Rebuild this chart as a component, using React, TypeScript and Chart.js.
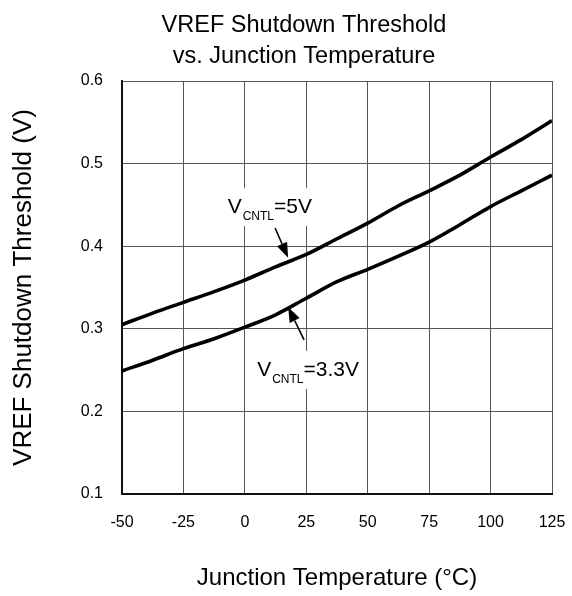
import React, { useEffect, useRef } from "react";
import { Chart, registerables } from "chart.js";

Chart.register(...registerables);

// ---- data ----
const temperatures = [-50, -37.5, -25, -12.5, 0, 12.5, 25, 37.5, 50, 62.5, 75, 87.5, 100, 112.5, 125];
const vref5V = [0.305, 0.319, 0.332, 0.345, 0.359, 0.375, 0.39, 0.409, 0.428, 0.449, 0.467, 0.486, 0.508, 0.529, 0.552];
const vref33V = [0.249, 0.262, 0.276, 0.288, 0.302, 0.317, 0.337, 0.357, 0.372, 0.388, 0.405, 0.426, 0.448, 0.467, 0.486];
const xTickValues = [-50, -25, 0, 25, 50, 75, 100, 125];
const yTickValues = [0.1, 0.2, 0.3, 0.4, 0.5, 0.6];
const titleLines = ["VREF Shutdown Threshold", "vs. Junction Temperature"];

const FONT = "'Liberation Sans', Arial, Helvetica, sans-serif";

type Note = {
  main: string;
  sub: string;
  tail: string;
  at: [number, number];
  arrowFrom: [number, number];
  arrowTo: [number, number];
};

const notes: Note[] = [
  { main: "V", sub: "CNTL", tail: "=5V", at: [-7.0, 0.44], arrowFrom: [12.3, 0.422], arrowTo: [17.6, 0.386] },
  { main: "V", sub: "CNTL", tail: "=3.3V", at: [5.0, 0.243], arrowFrom: [24.1, 0.2865], arrowTo: [17.6, 0.3264] },
];

const titlePlugin = {
  id: "twoLineTitle",
  afterDraw(chart: any) {
    const { ctx } = chart;
    ctx.save();
    ctx.fillStyle = "#000";
    ctx.font = `23.5px ${FONT}`;
    ctx.textAlign = "center";
    ctx.textBaseline = "alphabetic";
    ctx.fillText(titleLines[0], 304, 32);
    ctx.fillText(titleLines[1], 304, 63);
    ctx.restore();
  },
};

const annotationPlugin = {
  id: "vcntlNotes",
  afterDatasetsDraw(chart: any) {
    const { ctx, scales } = chart;
    const xs = scales.x;
    const ys = scales.y;
    ctx.save();
    for (const n of notes) {
      const px = xs.getPixelForValue(n.at[0]);
      const py = ys.getPixelForValue(n.at[1]);
      const mainFont = `21px ${FONT}`;
      const subFont = `12px ${FONT}`;
      ctx.font = mainFont;
      const wMain = ctx.measureText(n.main).width;
      const wTail = ctx.measureText(n.tail).width;
      ctx.font = subFont;
      const wSub = ctx.measureText(n.sub).width;
      const total = wMain + 1 + wSub + wTail;
      ctx.fillStyle = "#ffffff";
      ctx.fillRect(px - 6, py - 25, total + 12, 38);
      ctx.fillStyle = "#000000";
      ctx.textBaseline = "alphabetic";
      ctx.textAlign = "left";
      ctx.font = mainFont;
      ctx.fillText(n.main, px, py);
      ctx.font = subFont;
      ctx.fillText(n.sub, px + wMain + 1, py + 7);
      ctx.font = mainFont;
      ctx.fillText(n.tail, px + wMain + 1 + wSub, py);

      // arrow
      const x1 = xs.getPixelForValue(n.arrowFrom[0]);
      const y1 = ys.getPixelForValue(n.arrowFrom[1]);
      const x2 = xs.getPixelForValue(n.arrowTo[0]);
      const y2 = ys.getPixelForValue(n.arrowTo[1]);
      const ang = Math.atan2(y2 - y1, x2 - x1);
      const headLen = 15;
      const headHalf = 5.5;
      const bx = x2 - headLen * Math.cos(ang);
      const by = y2 - headLen * Math.sin(ang);
      ctx.strokeStyle = "#000000";
      ctx.lineWidth = 1.6;
      ctx.beginPath();
      ctx.moveTo(x1, y1);
      ctx.lineTo(bx, by);
      ctx.stroke();
      ctx.beginPath();
      ctx.moveTo(x2, y2);
      ctx.lineTo(bx + headHalf * Math.sin(ang), by - headHalf * Math.cos(ang));
      ctx.lineTo(bx - headHalf * Math.sin(ang), by + headHalf * Math.cos(ang));
      ctx.closePath();
      ctx.fill();
    }
    ctx.restore();
  },
};

export default function App() {
  const canvasRef = useRef<HTMLCanvasElement | null>(null);

  useEffect(() => {
    if (!canvasRef.current) return;
    Chart.defaults.font.family = FONT;
    Chart.defaults.color = "#000";
    const chart = new Chart(canvasRef.current, {
      type: "line",
      data: {
        datasets: [
          {
            label: "VCNTL=5V",
            data: temperatures.map((t, i) => ({ x: t, y: vref5V[i] })),
            borderColor: "#000",
            borderWidth: 3.6,
            pointRadius: 0,
            cubicInterpolationMode: "monotone",
            fill: false,
          },
          {
            label: "VCNTL=3.3V",
            data: temperatures.map((t, i) => ({ x: t, y: vref33V[i] })),
            borderColor: "#000",
            borderWidth: 3.6,
            pointRadius: 0,
            cubicInterpolationMode: "monotone",
            fill: false,
          },
        ],
      },
      options: {
        animation: false,
        responsive: false,
        devicePixelRatio: 1,
        layout: { padding: { left: 0, right: 20, top: 81, bottom: 0 } },
        plugins: {
          legend: { display: false },
          tooltip: { enabled: false },
          title: { display: false },
        },
        scales: {
          x: {
            type: "linear",
            min: -50,
            max: 125,
            afterBuildTicks: (scale: any) => {
              scale.ticks = xTickValues.map((v) => ({ value: v }));
            },
            afterFit: (scale: any) => {
              scale.height = 102;
              scale.paddingLeft = 0;
              scale.paddingRight = 0;
            },
            ticks: {
              padding: 19,
              font: { size: 16, family: FONT },
              color: "#000",
              maxRotation: 0,
              callback: (v: any) => String(v),
            },
            grid: { color: "#555", lineWidth: 1, drawTicks: false },
            border: { display: true, color: "#111", width: 2 },
            title: {
              display: true,
              text: "Junction Temperature (°C)",
              color: "#000",
              font: { size: 24, family: FONT, lineHeight: 1.2 },
              padding: { top: 0, bottom: 3 },
            },
          },
          y: {
            type: "linear",
            min: 0.1,
            max: 0.6,
            afterBuildTicks: (scale: any) => {
              scale.ticks = yTickValues.map((v) => ({ value: v }));
            },
            afterFit: (scale: any) => {
              scale.width = 122;
            },
            ticks: {
              padding: 19,
              font: { size: 16, family: FONT },
              color: "#000",
              callback: (v: any) => Number(v).toFixed(1),
            },
            grid: { color: "#555", lineWidth: 1, drawTicks: false },
            border: { display: true, color: "#111", width: 2 },
            title: {
              display: true,
              text: "VREF Shutdown Threshold (V)",
              color: "#000",
              font: { size: 26, family: FONT, lineHeight: 1.2 },
              padding: { top: 8, bottom: 0 },
            },
          },
        },
      },
      plugins: [annotationPlugin, titlePlugin],
    } as any);
    return () => chart.destroy();
  }, []);

  return (
    <div style={{ position: "fixed", left: 0, top: 0, width: 572, height: 596, background: "#fff" }}>
      <canvas ref={canvasRef} width={572} height={596} />
    </div>
  );
}
